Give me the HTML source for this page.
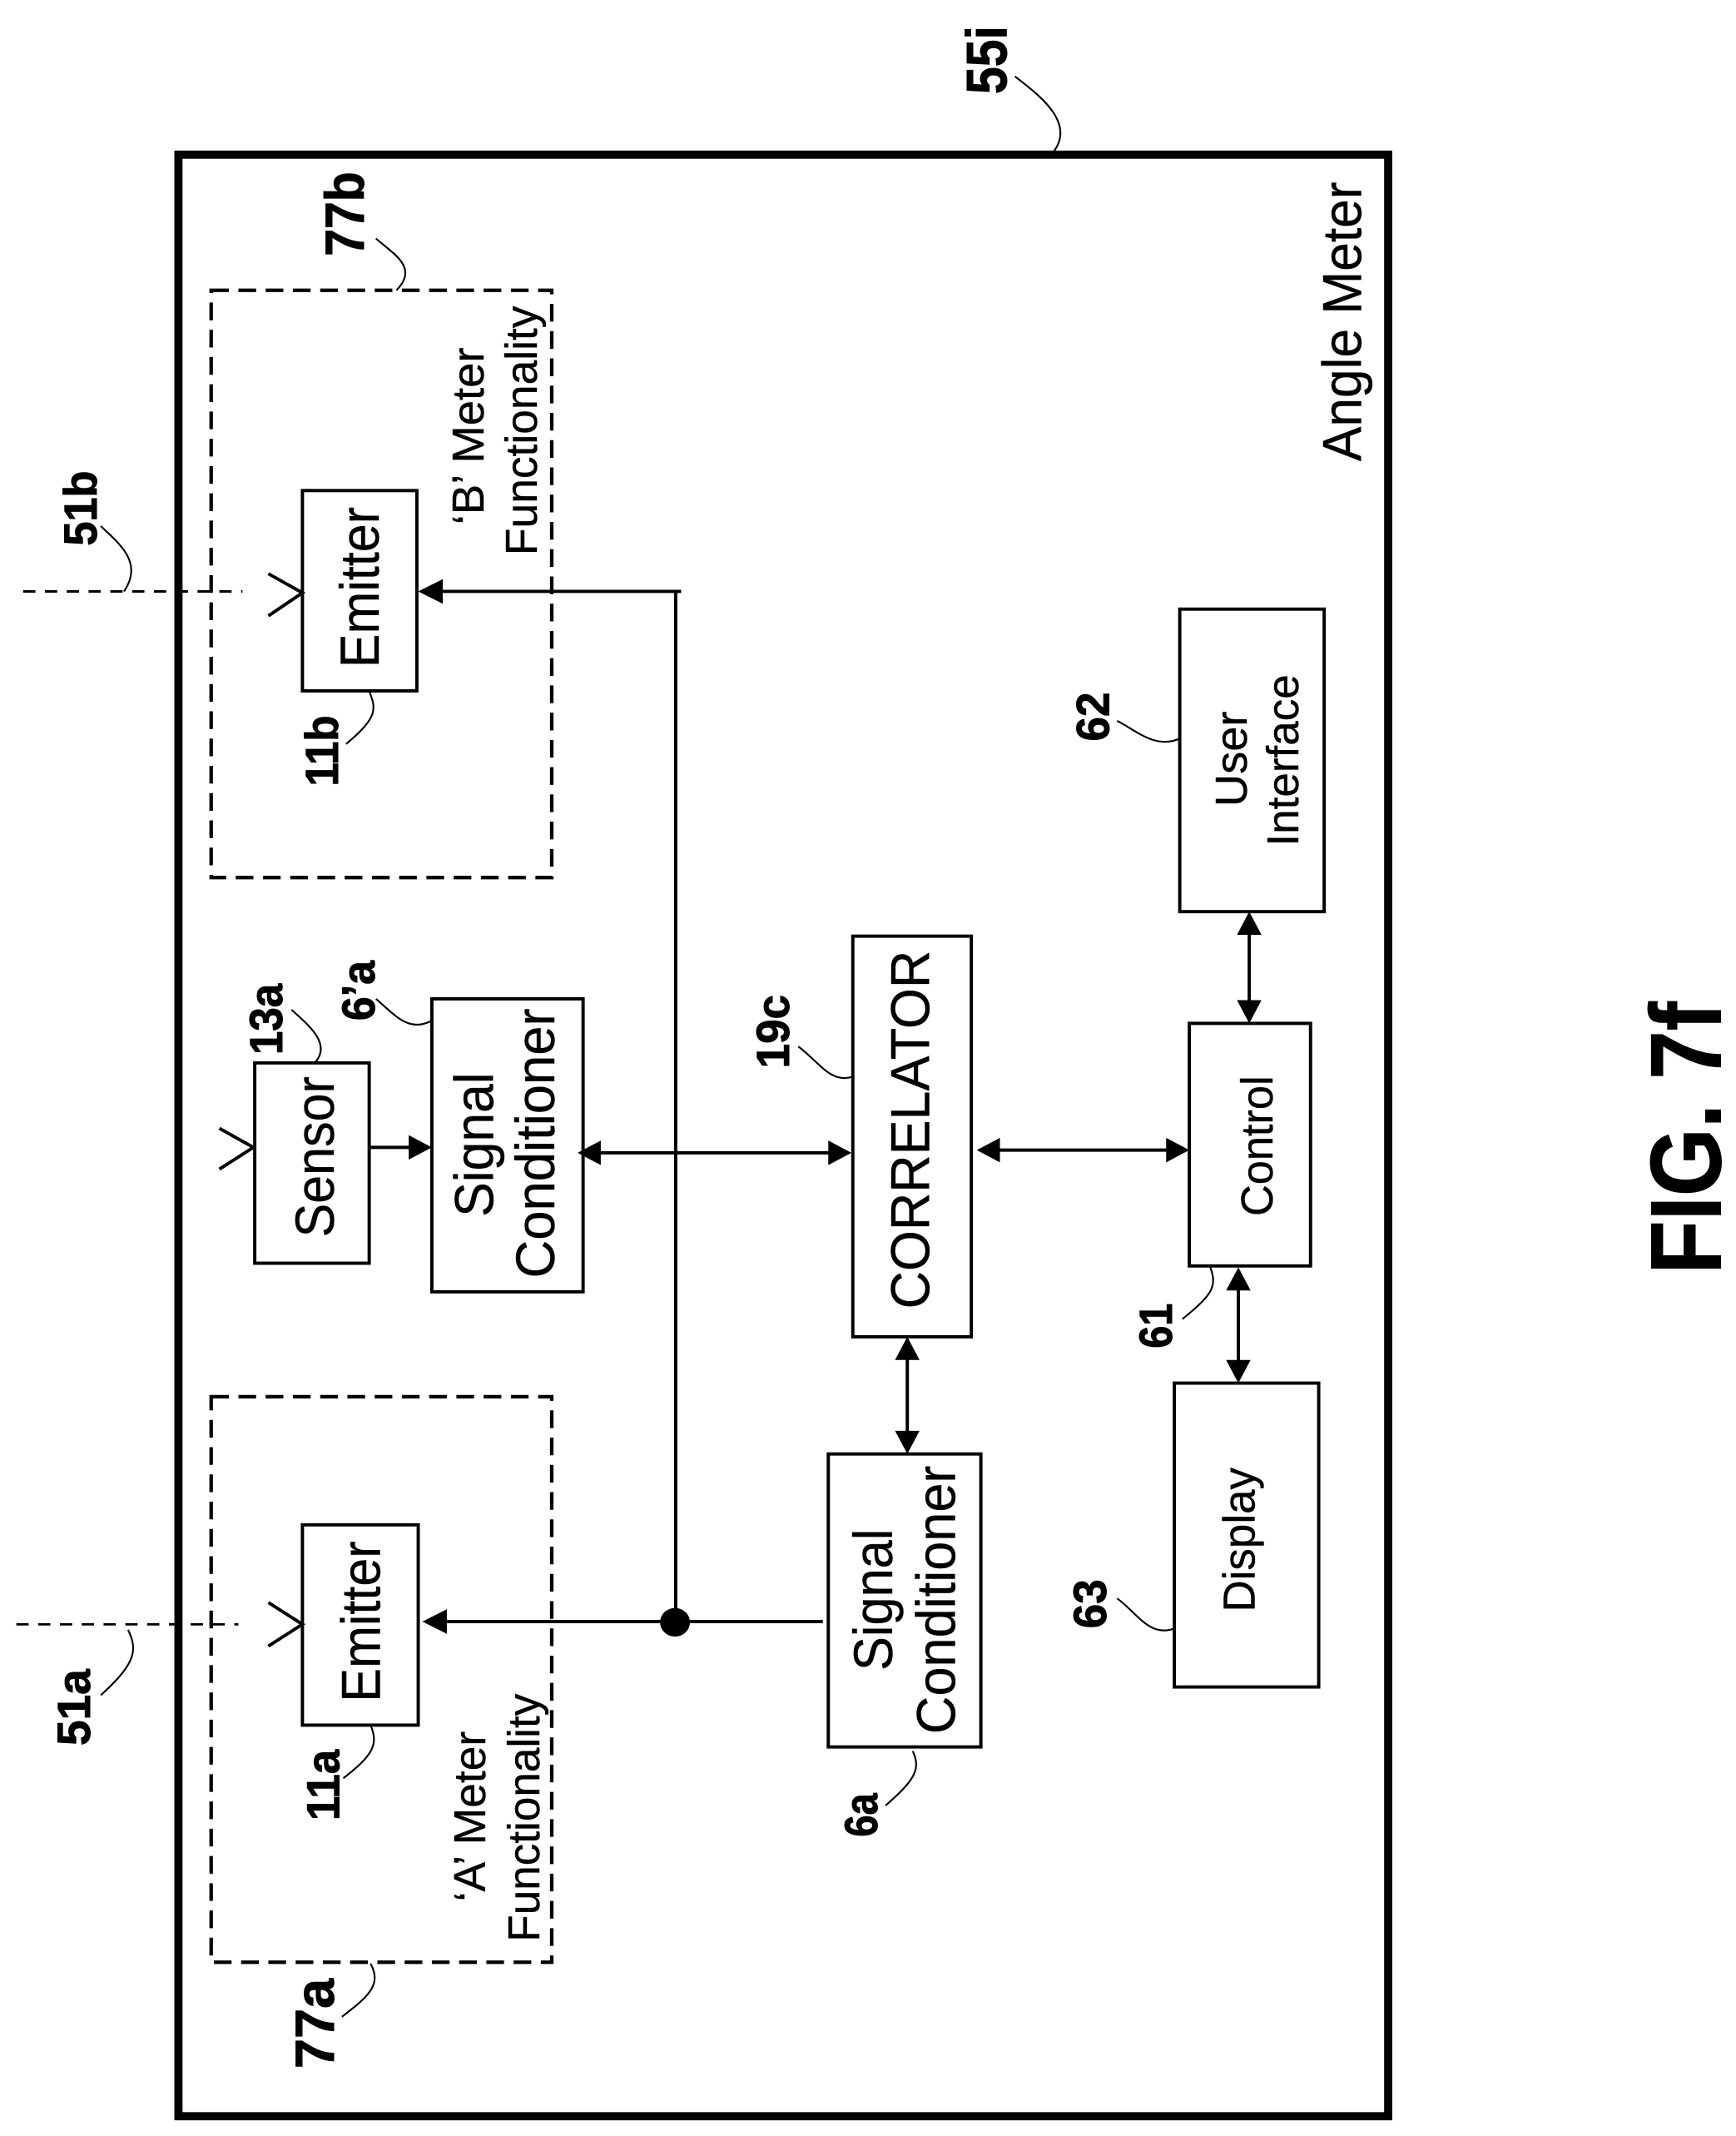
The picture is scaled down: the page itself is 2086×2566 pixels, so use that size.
<!DOCTYPE html>
<html><head><meta charset="utf-8"><style>
html,body{margin:0;padding:0;background:#fff}
svg{display:block}
text{font-family:"Liberation Sans",sans-serif;fill:#000}
.r{font-size:40px;stroke:#000;stroke-width:.25}
.s{font-size:33px;stroke:#000;stroke-width:.25}
.b{font-weight:bold;font-size:36px;stroke:#000;stroke-width:.6}
.box{fill:none;stroke:#000;stroke-width:2.4}
.l{stroke:#000;stroke-width:2.4;fill:none}
.c{stroke:#000;stroke-width:1.3;fill:none}
.d{stroke:#000;stroke-width:2.6;fill:none;stroke-dasharray:13 7}
.t{stroke:#000;stroke-width:1.8;fill:none;stroke-dasharray:9 7}
</style></head><body>
<svg width="2086" height="2566" viewBox="0 0 1274.3 1567.5" xmlns="http://www.w3.org/2000/svg">
<rect width="1274.3" height="1567.5" fill="#fff"/>
<rect x="131" y="113.500" width="888" height="1439.500" fill="none" stroke="#000" stroke-width="6"/>
<rect class="d" x="155" y="213" width="250" height="431"/>
<rect class="d" x="155" y="1025" width="250" height="415"/>
<rect class="box" x="222" y="360" width="84" height="147"/>
<rect class="box" x="222" y="1119" width="85" height="147"/>
<rect class="box" x="187" y="780" width="84" height="147"/>
<rect class="box" x="317" y="733" width="111" height="215"/>
<rect class="box" x="626" y="687" width="87" height="294"/>
<rect class="box" x="608" y="1067" width="112" height="215"/>
<rect class="box" x="873" y="751" width="89" height="178"/>
<rect class="box" x="866" y="447" width="106" height="222"/>
<rect class="box" x="862" y="1015" width="106" height="223"/>

<path class="t" d="M17 434H178"/>
<path class="t" d="M12 1192H175"/>
<path class="l" d="M197 421L222 435L197 452"/>
<path class="l" d="M197 1176L222 1192L197 1208"/>
<path class="l" d="M161 828L186 842L161 858"/>

<path class="l" d="M322 434H500"/>
<path class="l" d="M496 434V1190"/>
<path class="l" d="M325 1190H604"/>
<ellipse cx="495.500" cy="1190.500" rx="11" ry="10.500"/>
<polygon points="307,434 325,425 325,443"/>
<polygon points="310,1190 328,1181 328,1199"/>

<path class="l" d="M271 842H303"/>
<polygon points="317,842 300,833 300,851"/>
<path class="l" d="M435 846H612"/>
<polygon points="424,846 441,837 441,855"/>
<polygon points="625,846 608,837 608,855"/>
<path class="l" d="M730 844H860"/>
<polygon points="717,844 734,835 734,853"/>
<polygon points="873,844 856,835 856,853"/>
<path class="l" d="M666 995V1055"/>
<polygon points="666,981 657,998 675,998"/>
<polygon points="666,1067 657,1050 675,1050"/>
<path class="l" d="M917 682V738"/>
<polygon points="917,669 908,686 926,686"/>
<polygon points="917,751 908,734 926,734"/>
<path class="l" d="M909 943V1002"/>
<polygon points="909,930 900,947 918,947"/>
<polygon points="909,1015 900,998 918,998"/>

<path class="c" d="M745 56C760 68 792 90 772 113"/>
<path class="c" d="M276 175C288 186 308 196 291 213"/>
<path class="c" d="M74 386C86 398 106 412 91 434"/>
<path class="c" d="M271 507C276 520 278 526 254 546"/>
<path class="c" d="M214 741C226 752 244 766 231 780"/>
<path class="c" d="M276 733C290 745 300 758 317 749"/>
<path class="c" d="M586 768C600 778 610 796 626 790"/>
<path class="c" d="M820 529C834 536 848 550 866 542"/>
<path class="c" d="M888 929C894 944 890 950 868 968"/>
<path class="c" d="M820 1173C834 1183 844 1202 862 1195"/>
<path class="c" d="M670 1285C676 1298 672 1306 650 1325"/>
<path class="c" d="M272 1266C278 1280 274 1288 252 1305"/>
<path class="c" d="M94 1196C102 1212 98 1222 74 1244"/>
<path class="c" d="M272 1441C280 1456 272 1464 251 1480"/>

<g text-anchor="middle">
<text class="b" style="font-size:42px" transform="translate(739,44) rotate(-90)" textLength="50" lengthAdjust="spacingAndGlyphs">55i</text>
<text class="b" style="font-size:40px" transform="translate(267,157) rotate(-90)" textLength="62" lengthAdjust="spacingAndGlyphs">77b</text>
<text class="b" style="font-size:34px" transform="translate(71,373) rotate(-90)" textLength="55" lengthAdjust="spacingAndGlyphs">51b</text>
<text class="b" style="font-size:34px" transform="translate(248,551) rotate(-90)" textLength="52" lengthAdjust="spacingAndGlyphs">11b</text>
<text class="b" style="font-size:34px" transform="translate(207,748) rotate(-90)" textLength="52" lengthAdjust="spacingAndGlyphs">13a</text>
<text class="b" style="font-size:34px" transform="translate(275,727) rotate(-90)" textLength="44" lengthAdjust="spacingAndGlyphs">6’a</text>
<text class="b" style="font-size:34px" transform="translate(579,757) rotate(-90)" textLength="54" lengthAdjust="spacingAndGlyphs">19c</text>
<text class="b" style="font-size:34px" transform="translate(814,526) rotate(-90)" textLength="36" lengthAdjust="spacingAndGlyphs">62</text>
<text class="b" style="font-size:34px" transform="translate(860,973) rotate(-90)" textLength="33" lengthAdjust="spacingAndGlyphs">61</text>
<text class="b" style="font-size:34px" transform="translate(812,1177) rotate(-90)" textLength="36" lengthAdjust="spacingAndGlyphs">63</text>
<text class="b" style="font-size:34px" transform="translate(644,1332) rotate(-90)" textLength="32" lengthAdjust="spacingAndGlyphs">6a</text>
<text class="b" style="font-size:34px" transform="translate(249,1310) rotate(-90)" textLength="52" lengthAdjust="spacingAndGlyphs">11a</text>
<text class="b" style="font-size:34px" transform="translate(66,1253) rotate(-90)" textLength="56" lengthAdjust="spacingAndGlyphs">51a</text>
<text class="b" style="font-size:40px" transform="translate(245,1485) rotate(-90)" textLength="66" lengthAdjust="spacingAndGlyphs">77a</text>
<text class="b" style="font-size:74px" transform="translate(1263,835) rotate(-90)" textLength="200" lengthAdjust="spacingAndGlyphs">FIG. 7f</text>

<text class="r" transform="translate(999,236) rotate(-90)" textLength="205" lengthAdjust="spacingAndGlyphs">Angle Meter</text>
<text class="r" transform="translate(278,431) rotate(-90)" textLength="118" lengthAdjust="spacingAndGlyphs">Emitter</text>
<text class="r" transform="translate(279,1190) rotate(-90)" textLength="118" lengthAdjust="spacingAndGlyphs">Emitter</text>
<text class="r" transform="translate(245,849) rotate(-90)" textLength="118" lengthAdjust="spacingAndGlyphs">Sensor</text>
<text class="r" transform="translate(362,840) rotate(-90)" textLength="106" lengthAdjust="spacingAndGlyphs">Signal</text>
<text class="r" transform="translate(407,839) rotate(-90)" textLength="198" lengthAdjust="spacingAndGlyphs">Conditioner</text>
<text class="r" transform="translate(682,829) rotate(-90)" textLength="263" lengthAdjust="spacingAndGlyphs">CORRELATOR</text>
<text class="r" transform="translate(655,1174) rotate(-90)" textLength="104" lengthAdjust="spacingAndGlyphs">Signal</text>
<text class="r" transform="translate(701,1174) rotate(-90)" textLength="197" lengthAdjust="spacingAndGlyphs">Conditioner</text>
<text class="s" transform="translate(934,841) rotate(-90)" textLength="103" lengthAdjust="spacingAndGlyphs">Control</text>
<text class="s" transform="translate(915,557) rotate(-90)" textLength="70" lengthAdjust="spacingAndGlyphs">User</text>
<text class="s" transform="translate(953,558) rotate(-90)" textLength="126" lengthAdjust="spacingAndGlyphs">Interface</text>
<text class="s" transform="translate(921,1130) rotate(-90)" textLength="106" lengthAdjust="spacingAndGlyphs">Display</text>
<text class="s" transform="translate(355,320) rotate(-90)" textLength="130" lengthAdjust="spacingAndGlyphs">‘B’ Meter</text>
<text class="s" transform="translate(394,316) rotate(-90)" textLength="183" lengthAdjust="spacingAndGlyphs">Functionality</text>
<text class="s" transform="translate(356,1333) rotate(-90)" textLength="125" lengthAdjust="spacingAndGlyphs">‘A’ Meter</text>
<text class="s" transform="translate(396,1334) rotate(-90)" textLength="182" lengthAdjust="spacingAndGlyphs">Functionality</text>
</g>
</svg>
</body></html>
